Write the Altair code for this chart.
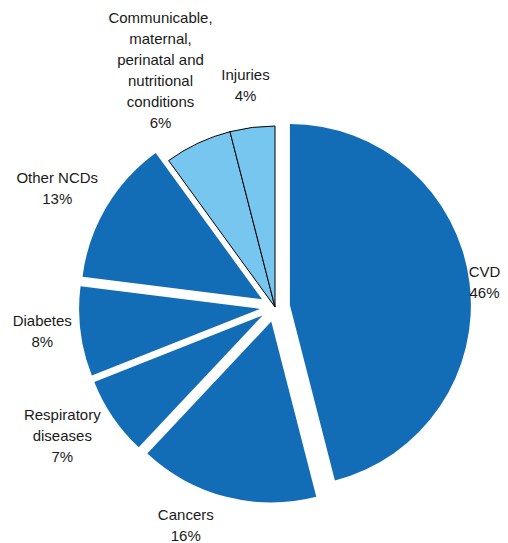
import math
import altair as alt
import pandas as pd

# ---- data ----
categories = [
    "CVD",
    "Cancers",
    "Respiratory diseases",
    "Diabetes",
    "Other NCDs",
    "Communicable, maternal, perinatal and nutritional conditions",
    "Injuries",
]
label_lines = [
    ["CVD"],
    ["Cancers"],
    ["Respiratory", "diseases"],
    ["Diabetes"],
    ["Other NCDs"],
    ["Communicable,", "maternal,", "perinatal and", "nutritional", "conditions"],
    ["Injuries"],
]
shares = [46, 16, 7, 8, 13, 6, 4]
groups = ["NCD", "NCD", "NCD", "NCD", "NCD", "Other", "Other"]

# ---- styles ----
explode = [15, 15, 15, 15, 15, 0, 0]          # px slice pull-out
label_radius = [211, 236, 249, 234, 248, 263, 223]
label_shift = [0.11, 2.17, 0.8, 0.36, -0.56, -0.17, -0.11]  # in share units
CX, CY, R = 267, 299, 181
LH = 21
DARK, LIGHT = "#126cb6", "#76c6ef"

df = pd.DataFrame({
    "category": categories,
    "label": ["\n".join(l + [f"{v}%"]) for l, v in zip(label_lines, shares)],
    "nlines": [len(l) + 1 for l in label_lines],
    "share": shares,
    "group": groups,
    "order": list(range(len(shares))),
    "explode": explode,
    "lr": label_radius,
    "ls": label_shift,
})

theta_scale = alt.Scale(domain=[0, 100], range=[0, 2 * math.pi])

base = alt.Chart(df).transform_window(
    cum="sum(share)", sort=[alt.SortField("order")], frame=[None, 0]
).transform_calculate(
    start="datum.cum - datum.share",
    mid="datum.cum - datum.share / 2",
).transform_calculate(
    ang="datum.mid / 100 * 2 * PI",
    lang="(datum.mid + datum.ls) / 100 * 2 * PI",
).transform_calculate(
    px=f"{CX} + datum.explode * sin(datum.ang)",
    py=f"{CY} - datum.explode * cos(datum.ang)",
    tx=f"{CX} + datum.lr * sin(datum.lang)",
    ty=f"{CY} - datum.lr * cos(datum.lang) - (datum.nlines - 1) * {LH} / 2",
)

enc = dict(
    theta=alt.Theta("start:Q", scale=theta_scale),
    theta2="cum:Q",
    x=alt.X("px:Q", scale=None, axis=None),
    y=alt.Y("py:Q", scale=None, axis=None),
)

dark = base.transform_filter("datum.group == 'NCD'").mark_arc(
    radius=R, color=DARK
).encode(**enc)

light = base.transform_filter("datum.group == 'Other'").mark_arc(
    radius=R, color=LIGHT, stroke="#000000", strokeWidth=1
).encode(**enc)

labels = base.mark_text(
    font="Liberation Sans", fontSize=15, lineHeight=LH, lineBreak="\n",
    color="#1a1a1a", align="center", baseline="middle",
).encode(
    x=alt.X("tx:Q", scale=None, axis=None),
    y=alt.Y("ty:Q", scale=None, axis=None),
    text="label:N",
)

chart = alt.layer(dark, light, labels).properties(
    width=492, height=535,
    autosize=alt.AutoSizeParams(type="none"),
    padding=0,
    background="white",
).configure_view(stroke=None)

chart.save("out.html", embed_options={"renderer": "svg", "actions": False})
